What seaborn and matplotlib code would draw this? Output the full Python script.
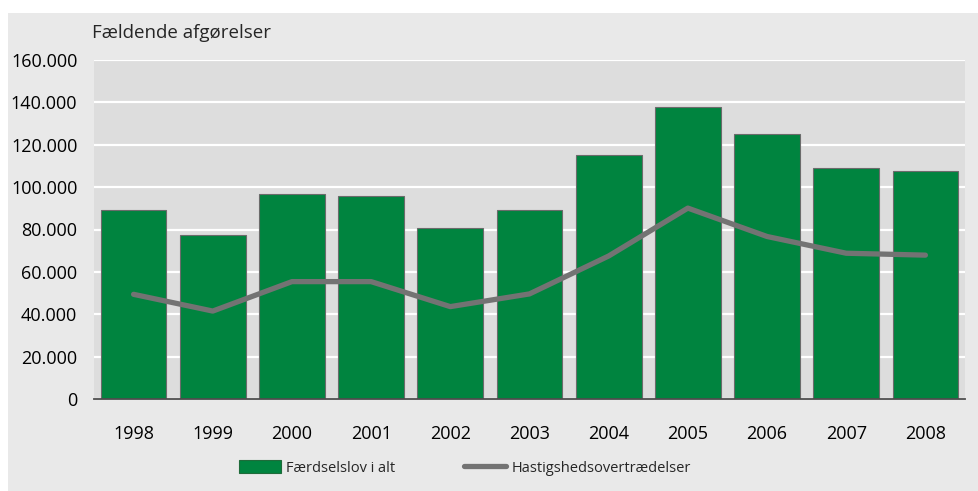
import matplotlib
matplotlib.use("Agg")
import matplotlib.pyplot as plt
import numpy as np
import pandas as pd
import seaborn as sns
from matplotlib.patches import Patch, Rectangle
from matplotlib.lines import Line2D
from matplotlib.ticker import FuncFormatter, MultipleLocator

# data
years = ['1998', '1999', '2000', '2001', '2002', '2003', '2004', '2005', '2006', '2007', '2008']
total = [89200, 77400, 96600, 95600, 80600, 89100, 115200, 137900, 125200, 109000, 107700]
speeding = [49400, 41500, 55400, 55400, 43600, 49600, 67500, 90100, 76700, 68800, 67900]

bar_label = 'Færdselslov i alt'
line_label = 'Hastigshedsovertrædelser'
y_title = 'Fældende afgørelser'

df = pd.DataFrame({'Year': years, 'Total': total, 'Speeding': speeding})

green = '#00843f'
grey_line = '#737373'

sns.set_style('darkgrid', {'axes.facecolor': '#dddddd', 'grid.color': 'white'})
plt.rcParams['font.family'] = ['Open Sans', 'DejaVu Sans']

fig = plt.figure(figsize=(9.79, 4.91), dpi=100, facecolor='white')
fig.patches.append(Rectangle((8 / 979, 0), 1, (491 - 13) / 491, transform=fig.transFigure,
                             facecolor='#e9e9e9', edgecolor='none', zorder=-10))
ax = fig.add_axes([94 / 979, (491 - 399) / 491, (965 - 94) / 979, (399 - 60) / 491])

sns.barplot(data=df, x='Year', y='Total', color=green, saturation=1, width=0.83,
            edgecolor='#6b6b6b', linewidth=0.8, ax=ax, zorder=2)
sns.lineplot(x=np.arange(len(years)), y=speeding, color=grey_line, linewidth=3.8,
             solid_capstyle='round', ax=ax, zorder=3)

ax.set_xlim(-0.5, len(years) - 0.5)
ax.set_ylim(0, 160000)
ax.yaxis.set_major_locator(MultipleLocator(20000))
ax.yaxis.set_major_formatter(FuncFormatter(lambda v, p: f"{int(v):,}".replace(',', '.')))
ax.grid(axis='y', color='white', linewidth=1.6)
ax.grid(axis='x', visible=False)
ax.set_axisbelow(True)
ax.set_xlabel('')
ax.set_ylabel('')
for s in ['top', 'right', 'left']:
    ax.spines[s].set_visible(False)
ax.spines['bottom'].set_visible(True)
ax.spines['bottom'].set_color('#4d4d4d')
ax.spines['bottom'].set_linewidth(1.3)
ax.tick_params(axis='y', length=0, pad=12, labelsize=13, labelcolor='black')
ax.tick_params(axis='x', length=0, pad=19, labelsize=13, labelcolor='black')

fig.text(92 / 979, (491 - 33) / 491, y_title, ha='left', va='center', fontsize=13.5)

# two separate legend entries, pinned where the reference has them
leg_kw = dict(loc='center left', frameon=False, prop={'size': 10.5}, borderpad=0,
              borderaxespad=0, handlelength=2.9, handleheight=1.0, handletextpad=0.35)
fig.legend([Patch(facecolor=green, edgecolor='#1f6b3a', linewidth=0.8)], [bar_label],
           bbox_to_anchor=(239 / 979, (491 - 468) / 491), **leg_kw)
fig.legend([Line2D([0], [0], color=grey_line, linewidth=3.8, solid_capstyle='round')], [line_label],
           bbox_to_anchor=(464 / 979, (491 - 468) / 491), **leg_kw)

fig.savefig('out.png', dpi=100, facecolor=fig.get_facecolor())
